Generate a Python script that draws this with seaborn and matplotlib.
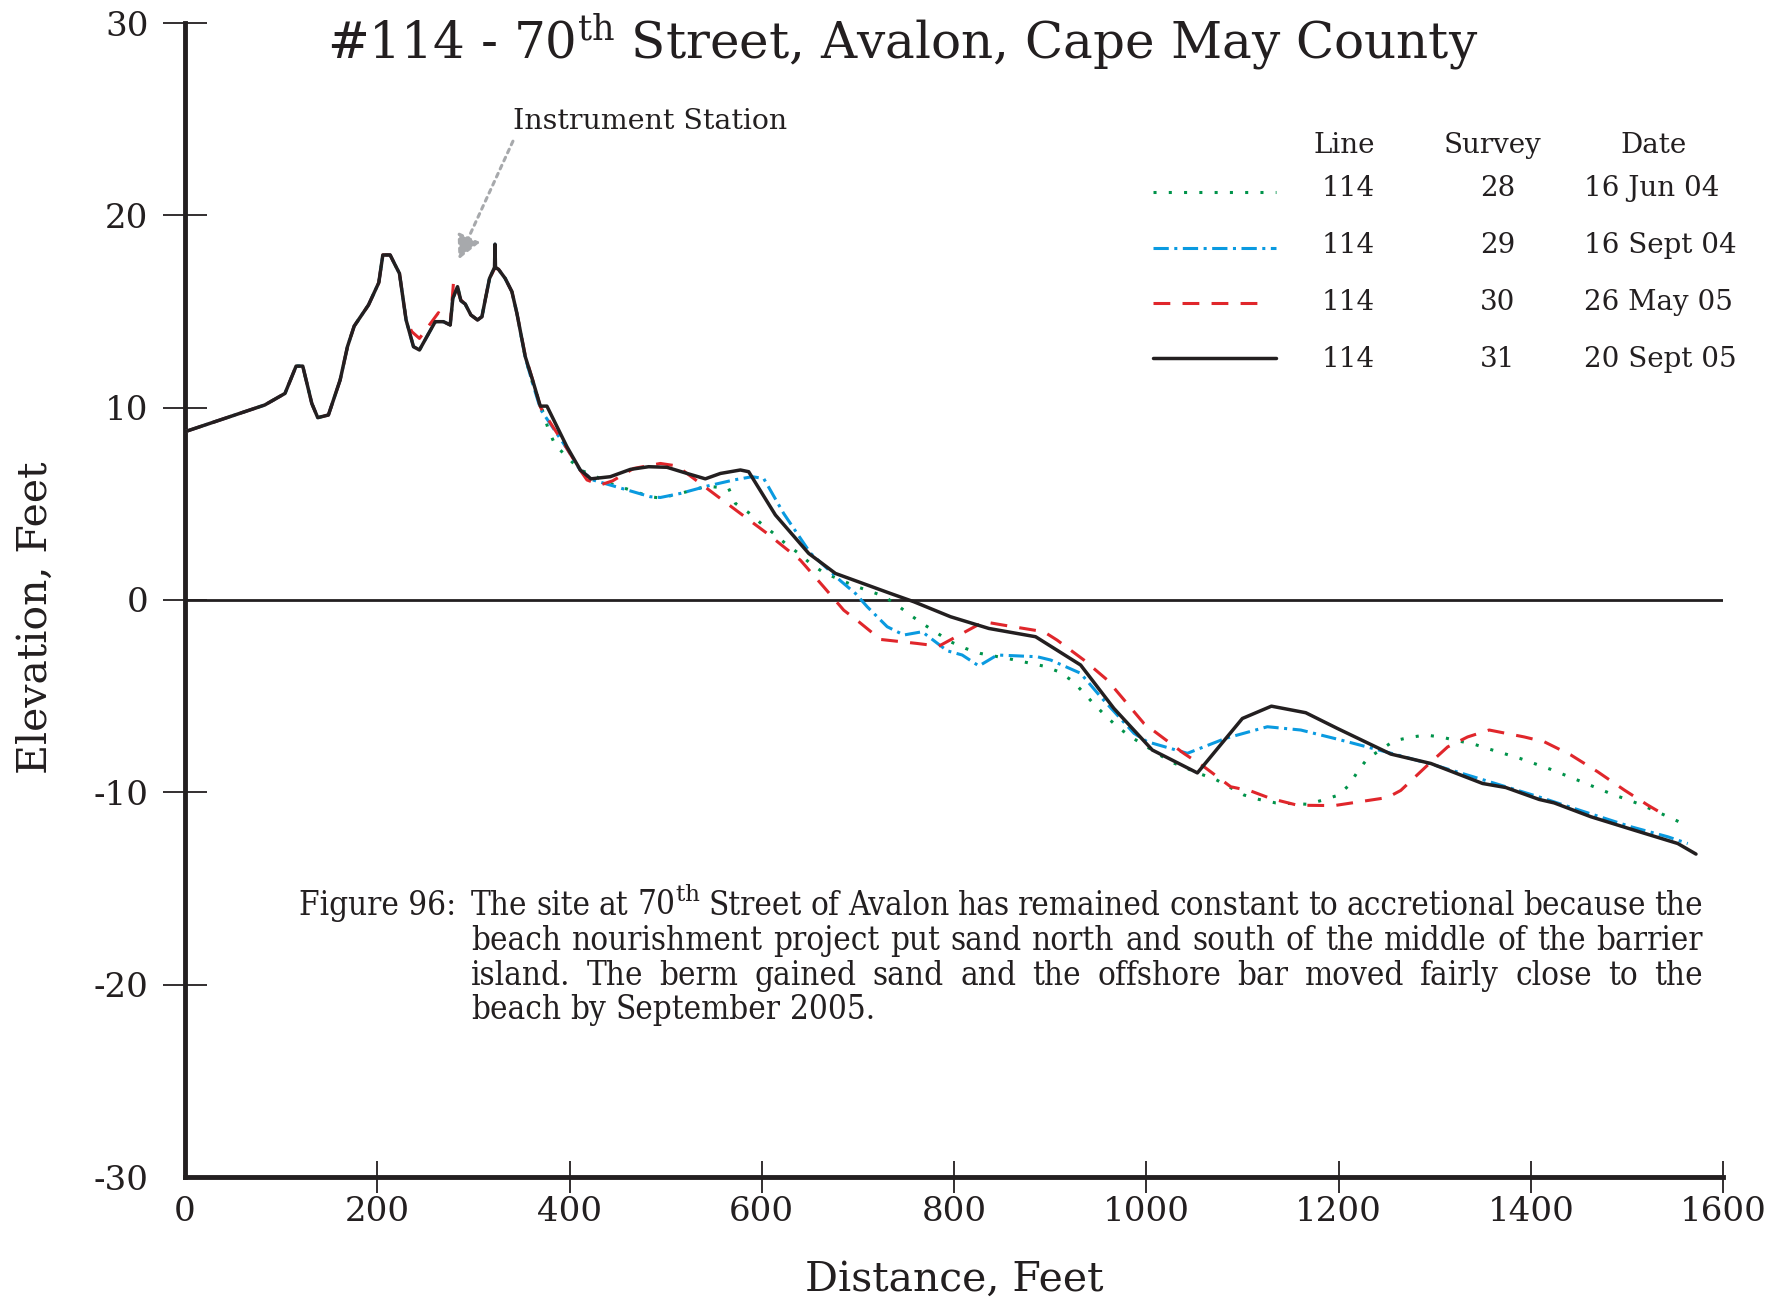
import numpy as np
import pandas as pd
import seaborn as sns
import matplotlib.pyplot as plt
import matplotlib.transforms as mtransforms
from matplotlib import font_manager
from matplotlib.lines import Line2D

# ---- data (distance ft, elevation ft) ----
# dune part, same for every survey
dune_x = [0, 83, 104, 115.6, 122.5, 131.9, 138.1, 149.2, 161.4, 169, 176, 190.9, 201.6, 205.8, 213.4, 218.6, 223.1]
dune_y = [8.75, 10.14, 10.74, 12.16, 12.16, 10.22, 9.48, 9.62, 11.44, 13.17, 14.24, 15.34, 16.5, 17.94, 17.94, 17.42, 16.98]

# crest around the instrument station
crest_x = [230, 237.7, 243.9, 260.3, 268.9, 275.9, 278.6, 283.5, 287, 291.5, 297.4, 304.3, 308.9, 312.3, 316.8,
           322, 322.5, 323, 326.2, 333.1, 340.1, 345.3]
crest_y = [14.56, 13.17, 13.0, 14.47, 14.47, 14.3, 15.68, 16.29, 15.56, 15.39, 14.82, 14.56, 14.73, 15.6, 16.72,
           17.29, 18.5, 17.29, 17.19, 16.72, 16.03, 14.9]
crest30_x = [230, 236, 243.9, 263.7, 268.9, 275.9, 279.5, 283.5, 287, 291.5, 297.4, 304.3, 308.9, 312.3, 316.8,
             322.7, 326.2, 333.1, 340.1, 345.3]
crest30_y = [14.56, 13.95, 13.6, 14.94, 14.47, 14.3, 16.64, 16.1, 15.6, 15.39, 14.82, 14.56, 14.73, 15.6, 16.72,
             17.29, 17.19, 16.72, 16.03, 14.9]

# beach and nearshore, one set per survey
s28_x = [354, 362, 373, 378.2, 385.2, 397.3, 411, 424.4, 440, 484, 494.5, 515.3, 543, 565.6, 572.6, 586.4, 598.6,
         612.4, 624.6, 638.5, 650.6, 664.5, 695.7, 727, 740.9, 754.7, 768.6, 796.4, 812, 827.6, 860.6, 893.5, 909.1,
         923, 934.5, 945.6, 957.7, 969.9, 983.8, 997.6, 1025.4, 1056.6, 1072.2, 1101.7, 1117.3, 1134.7, 1167.7,
         1183.3, 1199.6, 1211, 1220.4, 1230.2, 1257.9, 1274.5, 1290.9, 1308.2, 1323.9, 1340.5, 1356.8, 1389, 1421,
         1451.5, 1482.8, 1514.7, 1545.3, 1560.5]
s28_y = [12.6, 11.2, 9.7, 8.83, 8.05, 7.45, 6.76, 6.5, 6.1, 5.37, 5.3, 5.54, 5.92, 5.8, 5.02, 4.54, 4.01,
         3.46, 2.94, 2.42, 1.9, 1.42, 0.75, 0.2, -0.27, -0.79, -1.27, -2.17, -2.52, -2.78, -3.09, -3.44, -3.73,
         -4.2, -4.8, -5.41, -6.02, -6.59, -7.11, -7.54, -8.41, -9.05, -9.33, -10.14, -10.37, -10.55, -10.62,
         -10.41, -10.15, -9.63, -8.88, -8.24, -7.32, -7.14, -7.02, -7.14, -7.32, -7.49, -7.75, -8.24, -8.81,
         -9.42, -10.06, -10.64, -11.32, -11.68]

s29_x = [354, 362, 370, 397, 411, 425, 484, 494.5, 515.3, 543, 570.8, 590, 602, 622.8, 650.6, 681.9, 697.5, 709.7,
         730.5, 747.8, 766.9, 792.9, 808.5, 825.9, 845, 886.6, 900.5, 931.7, 952.5, 987.2, 1001.1, 1042.8, 1082.7,
         1126, 1160.7, 1202.4, 1257.9, 1303, 1351.3, 1408.1, 1455.7, 1504.3, 1542.5, 1563.3]
s29_y = [12.6, 11.2, 9.9, 7.9, 6.76, 6.23, 5.37, 5.33, 5.54, 5.92, 6.24, 6.41, 6.32, 4.5, 2.44, 1.0, 0.34, -0.35,
         -1.39, -1.82, -1.65, -2.64, -2.86, -3.43, -2.86, -2.95, -3.12, -3.81, -5.03, -6.93, -7.37, -7.97, -7.19,
         -6.59, -6.76, -7.28, -8.01, -8.63, -9.36, -10.23, -11.01, -11.79, -12.31, -12.66]

s30_x = [354, 362.6, 370, 397, 411, 418.2, 432, 445, 466.7, 494.5, 511.8, 536.1, 570.8, 605.6, 640.2, 664.5, 685.3,
         700.9, 723.5, 761.7, 784.2, 831, 851.9, 893.5, 907.4, 935.1, 959.5, 997.6, 1039.2, 1060.1, 1087.9, 1108.7,
         1129.5, 1157.3, 1195.4, 1251, 1264.8, 1292.6, 1313.5, 1334.3, 1356.8, 1393.2, 1414, 1441.8, 1469.6, 1497.3,
         1521.6, 1542.5]
s30_y = [12.7, 11.3, 10.0, 7.9, 6.76, 6.24, 5.98, 6.2, 6.84, 7.1, 6.97, 6.06, 4.76, 3.46, 2.07, 0.68, -0.53,
         -1.13, -2.05, -2.26, -2.4, -1.13, -1.31, -1.65, -2.09, -3.12, -4.16, -6.42, -7.98, -8.67, -9.71, -9.93,
         -10.32, -10.67, -10.69, -10.27, -9.9, -8.59, -7.64, -7.12, -6.76, -7.12, -7.37, -8.06, -8.93, -9.88,
         -10.66, -11.27]

s31_x = [354, 362.6, 369.6, 376.5, 397.3, 411.2, 422.3, 442.4, 463.3, 482.3, 501.4, 522.3, 541.3, 557, 577.8, 586.4,
         614.2, 648.9, 676.7, 733.9, 758.2, 796.4, 836.3, 884.9, 931.7, 966.4, 1006.3, 1053.2, 1100, 1130.2, 1165.9,
         1198.9, 1254.4, 1296.1, 1349.9, 1374.1, 1408.8, 1424.4, 1462.6, 1507.8, 1552.9, 1571.9]
s31_y = [12.65, 11.27, 10.08, 10.08, 7.97, 6.76, 6.3, 6.41, 6.79, 6.93, 6.9, 6.58, 6.3, 6.58, 6.76, 6.67,
         4.42, 2.42, 1.38, 0.34, -0.09, -0.87, -1.48, -1.91, -3.38, -5.64, -7.8, -8.99, -6.16, -5.52, -5.86,
         -6.68, -8.01, -8.5, -9.54, -9.75, -10.37, -10.55, -11.27, -11.97, -12.66, -13.21]

surveys = ['28', '29', '30', '31']
lines_col = ['114', '114', '114', '114']
dates = ['16 Jun 04', '16 Sept 04', '26 May 05', '20 Sept 05']
colors = {'28': '#00934a', '29': '#0a9ae0', '30': '#e0262b', '31': '#231f20'}
dash_map = {'28': (1, 4), '29': (5, 1.8, 1, 1.8), '30': (5.5, 4), '31': ''}

profiles = {
    '28': (dune_x + crest_x + s28_x, dune_y + crest_y + s28_y),
    '29': (dune_x + crest_x + s29_x, dune_y + crest_y + s29_y),
    '30': (dune_x + crest30_x + s30_x, dune_y + crest30_y + s30_y),
    '31': (dune_x + crest_x + s31_x, dune_y + crest_y + s31_y),
}
df = pd.concat([pd.DataFrame({'distance': px_, 'elevation': py_, 'survey': s})
                for s, (px_, py_) in profiles.items()], ignore_index=True)

sns.set_style('white')
plt.rcParams['font.family'] = ['DejaVu Serif']
plt.rcParams['mathtext.fontset'] = 'dejavuserif'
plt.rcParams['axes.unicode_minus'] = False
ink = '#231f20'

W, H = 1789, 1301
fig = plt.figure(figsize=(W / 100, H / 100), dpi=100)
ax = fig.add_axes([185 / W, 1 - 1177 / H, 1538 / W, 1154 / H])

ax.axhline(0, color=ink, lw=2, zorder=1.5)
sns.lineplot(data=df, x='distance', y='elevation', hue='survey', style='survey',
             hue_order=surveys, style_order=surveys, palette=colors, dashes=dash_map,
             estimator=None, sort=False, legend=False, linewidth=2.2, ax=ax, zorder=3)
ax.lines[-1].set_linewidth(2.5)

ax.set_xlim(0, 1600)
ax.set_ylim(-30, 30)
ax.set_xticks(np.arange(0, 1601, 200))
ax.set_yticks(np.arange(-30, 31, 10))
for side in ['top', 'right']:
    ax.spines[side].set_visible(False)
for side in ['left', 'bottom']:
    ax.spines[side].set_linewidth(3.5)
    ax.spines[side].set_color(ink)
ax.tick_params(axis='y', left=True, direction='inout', length=31.7, width=1.3, color=ink,
               labelsize=24.5, labelcolor=ink, pad=10.5)
ax.tick_params(axis='x', bottom=True, direction='inout', length=23, width=1.3, color=ink,
               labelsize=24.5, labelcolor=ink, pad=2)
ax.xaxis.get_major_ticks()[0].tick1line.set_visible(False)
ax.yaxis.get_major_ticks()[0].tick1line.set_visible(False)

ax.set_xlabel('Distance, Feet', fontsize=29.5, color=ink)
ax.xaxis.set_label_coords(0.5, -(1280 - 1177) / 1154)
ax.xaxis.label.set_verticalalignment('center')
ax.set_ylabel('Elevation, Feet', fontsize=29.5, color=ink)
ax.yaxis.set_label_coords((36 - 185) / 1538, (1177 - 618) / 1154)
ax.yaxis.label.set_verticalalignment('center')

ax.annotate('Instrument Station', xy=(284.5, 17.7), xytext=(341.1, 24.47),
            fontsize=20.5, color=ink, ha='left', va='baseline',
            arrowprops=dict(arrowstyle='-|>,head_length=0.7,head_width=0.35', color='#a7a9ac',
                            lw=2.2, linestyle=(0, (1.3, 1.6)), relpos=(0.01, 0), shrinkA=2, shrinkB=0))

ident = mtransforms.IdentityTransform()


def px(x, y):
    return x, H - y


# title
fig.text(*px(327, 58.3), r'#114 - 70$^{\mathrm{th}}$ Street, Avalon, Cape May County',
         fontsize=36, color=ink, ha='left', va='baseline', transform=ident)

# legend table
leg_rows = [196, 253, 310, 367]
sample_y = [191.7, 248.3, 302.7, 358.3]
fig.text(*px(1375, 153), 'Line', fontsize=20, color=ink, ha='right', va='baseline', transform=ident)
fig.text(*px(1492, 153), 'Survey', fontsize=20, color=ink, ha='center', va='baseline', transform=ident)
fig.text(*px(1654, 153), 'Date', fontsize=20, color=ink, ha='center', va='baseline', transform=ident)
sample_end = {'28': 1276, '29': 1276, '30': 1265, '31': 1276}
for s, ln, d, yb, ys in zip(surveys, lines_col, dates, leg_rows, sample_y):
    x0, y0 = px(1153, ys)
    x1, _ = px(sample_end[s], ys)
    l = Line2D([x0, x1], [y0, y0], transform=ident, color=colors[s], lw=2.5 if s == '31' else 2.2)
    if dash_map[s]:
        l.set_dashes(dash_map[s])
    fig.add_artist(l)
    fig.text(*px(1375, yb), ln, fontsize=20, color=ink, ha='right', va='baseline', transform=ident)
    fig.text(*px(1497.5, yb), s, fontsize=20, color=ink, ha='center', va='baseline', transform=ident)
    fig.text(*px(1583.5, yb), d, fontsize=20, color=ink, ha='left', va='baseline', transform=ident)

# caption, justified; a condensed serif if there is one
cond = [f for f in font_manager.fontManager.ttflist
        if f.name == 'DejaVu Serif' and str(f.stretch) in ('condensed', '400', 'semi-condensed')
        and f.style == 'normal' and f.weight in (400, 'normal')]
if cond:
    cap_font = dict(family='DejaVu Serif', fontstretch='condensed', color=ink, va='baseline')
else:
    cap_font = dict(family='Liberation Serif', color=ink, va='baseline')
cap_lines = [
    r'The site at 70$^{\mathrm{th}}$ Street of Avalon has remained constant to accretional because the',
    'beach nourishment project put sand north and south of the middle of the barrier',
    'island.  The berm gained sand and the offshore bar moved fairly close to the',
    'beach by September 2005.',
]
cap_base = [915, 950, 985, 1019]
left, right = 471, 1702.7
fig.canvas.draw()
r = fig.canvas.get_renderer()
probe = fig.text(0, 0, cap_lines[1], fontsize=20, transform=ident, **cap_font)
size = 20 * (right - left) * 0.985 / probe.get_window_extent(renderer=r).width
probe.remove()
size = min(size, 25)
cap_font['fontsize'] = size

fig.text(*px(298.6, cap_base[0]), 'Figure 96:', transform=ident, **cap_font)
sp = fig.text(0, 0, 'a a', transform=ident, **cap_font)
sa = fig.text(0, 0, 'aa', transform=ident, **cap_font)
space_w = sp.get_window_extent(renderer=r).width - sa.get_window_extent(renderer=r).width
sp.remove()
sa.remove()
for i, (line, yb) in enumerate(zip(cap_lines, cap_base)):
    words = line.split()
    ts = [fig.text(0, 0, w, transform=ident, **cap_font) for w in words]
    widths = [t.get_window_extent(renderer=r).width for t in ts]
    if i < len(cap_lines) - 1:
        gap = (right - left - sum(widths)) / (len(words) - 1)
    else:
        gap = space_w
    x = left
    for t, w in zip(ts, widths):
        t.set_position(px(x, yb))
        x += w + gap

fig.savefig('out.png', dpi=100)
